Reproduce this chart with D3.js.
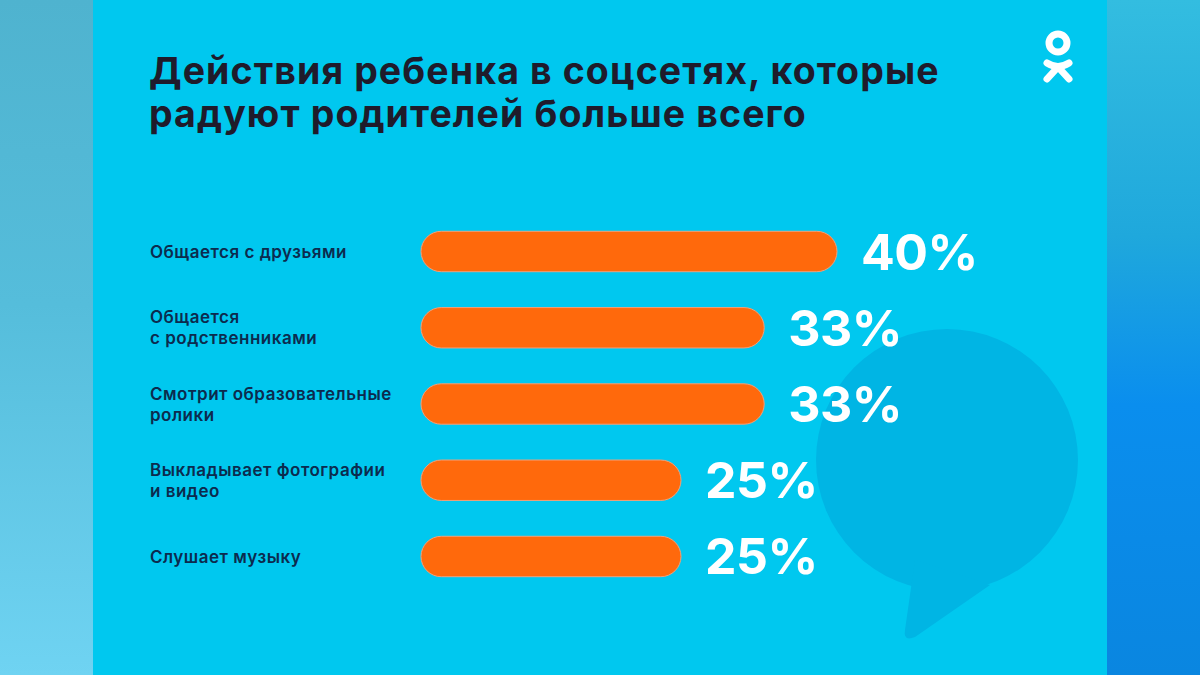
<!DOCTYPE html>
<html>
<head>
<meta charset="utf-8">
<script src="https://cdn.jsdelivr.net/npm/d3@7"></script>
<style>
  body { margin: 0; background: #00c8ef; }
  svg { display: block; }
</style>
</head>
<body>
<div id="chart"></div>
<script>
// data
var categories = [
  ["Общается с друзьями"],
  ["Общается", "с родственниками"],
  ["Смотрит образовательные", "ролики"],
  ["Выкладывает фотографии", "и видео"],
  ["Слушает музыку"]
];
var values = [40, 33, 33, 25, 25];
var valueLabels = ["40%", "33%", "33%", "25%", "25%"];
var titleLines = ["Действия ребенка в соцсетях, которые", "радуют родителей больше всего"];

var width = 1200, height = 675;

var svg = d3.select('#chart')
  .append('svg')
  .attr('width', width)
  .attr('height', height);

var defs = svg.append('defs');

// left blurred side
var gl = defs.append('linearGradient').attr('id', 'leftG')
  .attr('x1', 0).attr('y1', 0).attr('x2', 0).attr('y2', 1);
gl.append('stop').attr('offset', '0%').attr('stop-color', '#4fb3cf');
gl.append('stop').attr('offset', '45%').attr('stop-color', '#55bddb');
gl.append('stop').attr('offset', '100%').attr('stop-color', '#6fd3f2');

// right blurred side
var gr = defs.append('linearGradient').attr('id', 'rightG')
  .attr('x1', 0).attr('y1', 0).attr('x2', 0).attr('y2', 1);
gr.append('stop').attr('offset', '0%').attr('stop-color', '#33bde0');
gr.append('stop').attr('offset', '35%').attr('stop-color', '#1fa8dc');
gr.append('stop').attr('offset', '60%').attr('stop-color', '#0a8eee');
gr.append('stop').attr('offset', '100%').attr('stop-color', '#0a86e0');

svg.append('rect').attr('x', 0).attr('y', 0).attr('width', 93).attr('height', height)
  .attr('fill', 'url(#leftG)');
svg.append('rect').attr('x', 1107).attr('y', 0).attr('width', 93).attr('height', height)
  .attr('fill', 'url(#rightG)');
svg.append('rect').attr('x', 93).attr('y', 0).attr('width', 1014).attr('height', height)
  .attr('fill', '#00c8ef');

// speech bubble in the background
var bubble = svg.append('g').attr('fill', '#00b5e4');
bubble.append('circle').attr('cx', 947).attr('cy', 460).attr('r', 131);
bubble.append('path')
  .attr('d', 'M 915 560 L 905 630 Q 903 642 915 637 L 990 585 Z');

// title
var title = svg.append('text')
  .style('font-family', 'Inter, sans-serif')
  .style('font-weight', 700)
  .style('font-size', '37.5px')
  .style('letter-spacing', '1.1px')
  .attr('fill', '#1f1b2b');
titleLines.forEach(function(t, i) {
  title.append('tspan').attr('x', 149).attr('y', 84 + i * 43).text(t);
});

// ok logo
var logo = svg.append('g').attr('fill', 'none').attr('stroke', '#ffffff')
  .attr('stroke-linecap', 'round').attr('stroke-linejoin', 'round');
logo.append('circle').attr('cx', 1058).attr('cy', 43).attr('r', 9)
  .attr('stroke-width', 7);
logo.append('path')
  .attr('d', 'M 1047 63 Q 1058 70 1069 63 M 1058 67 L 1047 79 M 1058 67 L 1069 79')
  .attr('stroke-width', 7);

// scales
var x = d3.scaleLinear()
  .domain([0, 40])
  .range([421, 837]);

var y = d3.scaleBand()
  .domain(d3.range(values.length))
  .range([213, 595])
  .paddingInner(0.47)
  .paddingOuter(0.24);

var barH = y.bandwidth();

// bars
svg.selectAll('rect.bar')
  .data(values)
  .enter()
  .append('rect')
  .attr('class', 'bar')
  .attr('x', x(0))
  .attr('y', (d, i) => y(i))
  .attr('width', d => x(d) - x(0))
  .attr('height', barH)
  .attr('rx', barH / 2)
  .attr('fill', '#ff690c')
  .attr('stroke', '#f0a07a')
  .attr('stroke-width', 1);

// value labels
svg.selectAll('text.val')
  .data(values)
  .enter()
  .append('text')
  .attr('class', 'val')
  .attr('x', d => x(d) + 24)
  .attr('y', (d, i) => y(i) + barH / 2)
  .attr('dy', '0.36em')
  .style('font-family', 'Inter, sans-serif')
  .style('font-weight', 700)
  .style('font-size', '50px')
  .style('letter-spacing', '-0.5px')
  .attr('fill', '#ffffff')
  .text((d, i) => valueLabels[i]);

// category labels
categories.forEach(function(lines, i) {
  var cy = y(i) + barH / 2;
  var t = svg.append('text')
    .style('font-family', 'Inter, sans-serif')
    .style('font-weight', 600)
    .style('font-size', '17px')
    .style('letter-spacing', '0.5px')
    .attr('fill', '#0c2b4e');
  lines.forEach(function(l, j) {
    t.append('tspan')
      .attr('x', 150)
      .attr('y', cy + (j - (lines.length - 1) / 2) * 21)
      .attr('dy', '0.36em')
      .text(l);
  });
});
</script>
</body>
</html>
